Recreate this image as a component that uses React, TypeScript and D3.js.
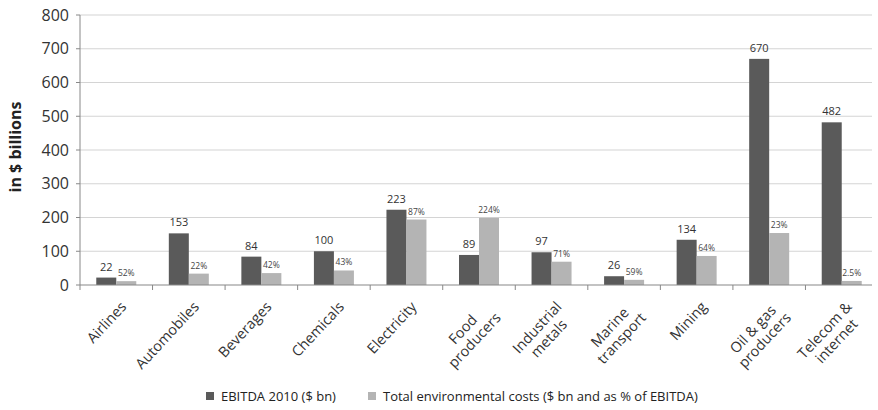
import React, { useRef, useEffect } from "react";
import * as d3 from "d3";

const categories = [
  "Airlines",
  "Automobiles",
  "Beverages",
  "Chemicals",
  "Electricity",
  "Food\nproducers",
  "Industrial\nmetals",
  "Marine\ntransport",
  "Mining",
  "Oil & gas\nproducers",
  "Telecom &\ninternet",
];
const ebitda = [22, 153, 84, 100, 223, 89, 97, 26, 134, 670, 482];
const envCost = [11.4, 33.7, 35.3, 43, 194, 199, 69, 15.3, 86, 154, 12];
const envPct = ["52%", "22%", "42%", "43%", "87%", "224%", "71%", "59%", "64%", "23%", "2.5%"];
const yTicks = [0, 100, 200, 300, 400, 500, 600, 700, 800];

const W = 878;
const H = 410;
const FONT = "'Open Sans', 'Liberation Sans', sans-serif";
const DARK = "#5a5a5a";
const LIGHT = "#b4b4b4";

const App: React.FC = () => {
  const ref = useRef<SVGSVGElement | null>(null);

  useEffect(() => {
    if (!ref.current) return;
    const svg = d3.select(ref.current);
    svg.selectAll("*").remove();

    const marginLeft = 80;
    const marginRight = 0;
    const marginTop = 15;
    const plotBottom = 285;

    const x = d3
      .scaleBand()
      .domain(categories)
      .range([marginLeft, W - marginRight])
      .paddingInner(0)
      .paddingOuter(0);
    const barW = 20;

    const y = d3.scaleLinear().domain([0, 800]).range([plotBottom, marginTop]);

    // gridlines
    svg
      .append("g")
      .selectAll("line")
      .data(yTicks.filter((t) => t > 0))
      .join("line")
      .attr("x1", marginLeft)
      .attr("x2", W - 6)
      .attr("y1", (d) => y(d))
      .attr("y2", (d) => y(d))
      .attr("stroke", "#d4d4d4")
      .attr("stroke-width", 1.2);

    // y tick labels
    svg
      .append("g")
      .selectAll("text")
      .data(yTicks)
      .join("text")
      .attr("x", marginLeft - 11)
      .attr("y", (d) => y(d))
      .attr("dy", "0.35em")
      .attr("text-anchor", "end")
      .attr("font-family", FONT)
      .attr("font-size", 16)
      .attr("fill", "#333")
      .text((d) => d);

    // y axis line + ticks
    svg
      .append("line")
      .attr("x1", marginLeft)
      .attr("x2", marginLeft)
      .attr("y1", y(800))
      .attr("y2", plotBottom)
      .attr("stroke", "#888");
    svg
      .append("g")
      .selectAll("line")
      .data(yTicks)
      .join("line")
      .attr("x1", marginLeft - 4)
      .attr("x2", marginLeft)
      .attr("y1", (d) => y(d))
      .attr("y2", (d) => y(d))
      .attr("stroke", "#888");

    // y title
    svg
      .append("text")
      .attr("transform", `translate(21,${(y(800) + plotBottom) / 2 - 3}) rotate(-90)`)
      .attr("text-anchor", "middle")
      .attr("font-family", FONT)
      .attr("font-weight", "bold")
      .attr("font-size", 16)
      .attr("fill", "#222")
      .text("in $ billions");

    // bars
    const g = svg.append("g");
    categories.forEach((c, i) => {
      const cx = (x(c) as number) + x.bandwidth() / 2;
      g.append("rect")
        .attr("x", cx - barW)
        .attr("y", y(ebitda[i]))
        .attr("width", barW)
        .attr("height", plotBottom - y(ebitda[i]))
        .attr("fill", DARK);
      g.append("rect")
        .attr("x", cx)
        .attr("y", y(envCost[i]))
        .attr("width", barW)
        .attr("height", plotBottom - y(envCost[i]))
        .attr("fill", LIGHT);
      g.append("text")
        .attr("x", cx - barW / 2)
        .attr("y", y(ebitda[i]) - 7)
        .attr("text-anchor", "middle")
        .attr("font-family", FONT)
        .attr("font-size", 11)
        .attr("fill", "#333")
        .text(ebitda[i]);
      g.append("text")
        .attr("x", cx + barW / 2)
        .attr("y", y(envCost[i]) - 5)
        .attr("text-anchor", "middle")
        .attr("font-family", FONT)
        .attr("font-size", 8.5)
        .attr("fill", "#444")
        .text(envPct[i]);
    });

    // x axis line + ticks
    svg
      .append("line")
      .attr("x1", marginLeft)
      .attr("x2", W - 6)
      .attr("y1", plotBottom)
      .attr("y2", plotBottom)
      .attr("stroke", "#888")
      .attr("stroke-width", 1.2);
    svg
      .append("g")
      .selectAll("line")
      .data(categories)
      .join("line")
      .attr("x1", (d) => x(d) as number)
      .attr("x2", (d) => x(d) as number)
      .attr("y1", plotBottom)
      .attr("y2", plotBottom + 5)
      .attr("stroke", "#888");

    // category labels (rotated, lines centred within block)
    categories.forEach((c) => {
      const cx = (x(c) as number) + x.bandwidth() / 2;
      const lines = c.split("\n");
      const lg = svg
        .append("g")
        .attr("transform", `translate(${cx + 3},${plotBottom + 15}) rotate(-47)`);
      const texts = lines.map((ln, j) =>
        lg
          .append("text")
          .attr("y", 11 + j * 16)
          .attr("font-family", FONT)
          .attr("font-size", 14.5)
          .attr("fill", "#333")
          .text(ln)
      );
      const widths = texts.map((t) => (t.node() as SVGTextElement).getComputedTextLength());
      const bw = Math.max(...widths);
      texts.forEach((t) => t.attr("x", -bw / 2).attr("text-anchor", "middle"));
    });

    // legend
    const legend = [
      { label: "EBITDA 2010 ($ bn)", color: DARK, x: 206 },
      { label: "Total environmental costs ($ bn and as % of EBITDA)", color: LIGHT, x: 368 },
    ];
    legend.forEach((l) => {
      svg
        .append("rect")
        .attr("x", l.x)
        .attr("y", 392)
        .attr("width", 8)
        .attr("height", 8)
        .attr("fill", l.color);
      svg
        .append("text")
        .attr("x", l.x + 15)
        .attr("y", 396)
        .attr("dy", "0.35em")
        .attr("font-family", FONT)
        .attr("font-size", 13)
        .attr("fill", "#222")
        .text(l.label);
    });
  }, []);

  return (
    <svg
      ref={ref}
      width={W}
      height={H}
      style={{ position: "absolute", left: 0, top: 0, background: "#fff" }}
    />
  );
};

export default App;
